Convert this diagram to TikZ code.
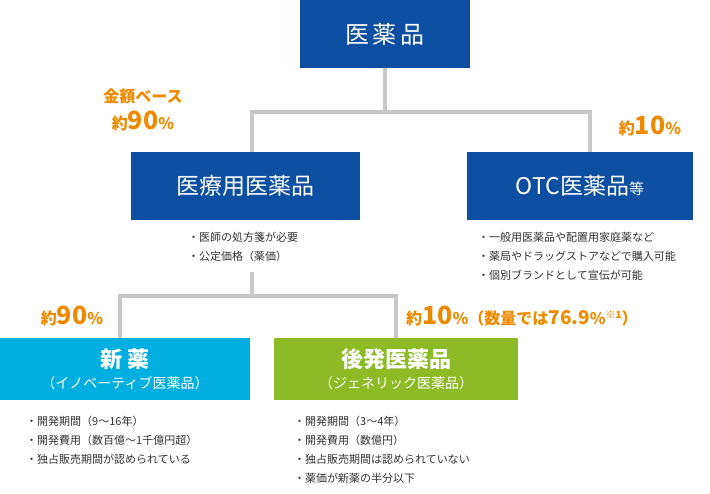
\documentclass[tikz,border=0pt]{standalone}
\usepackage{fontspec}
\setmainfont{Noto Sans CJK JP}
\definecolor{navy}{HTML}{0B4EA2}
\definecolor{cyanb}{HTML}{00AEE0}
\definecolor{greenb}{HTML}{8CBB26}
\definecolor{orng}{HTML}{EE8A00}
\definecolor{lin}{HTML}{C8C8C8}
\definecolor{txt}{HTML}{333333}
\begin{document}
\begin{tikzpicture}[x=1pt,y=-1pt,
 conn/.style={lin,line width=3.5pt},
 note/.style={text=txt,font=\fontsize{11}{19}\selectfont,align=left,anchor=north west,inner sep=0},
 pct/.style={text=orng,font=\bfseries\fontsize{16}{18}\selectfont,inner sep=0}]
\useasboundingbox (0,0) rectangle (710,494);
\fill[navy] (300,0) rectangle (470,68);
\node[text=white,font=\fontsize{24}{26}\selectfont] (top) at (385,34) {医\,薬\,品};
\fill[navy] (131,152) rectangle (360,220);
\node[text=white,font=\fontsize{23}{26}\selectfont] (iry) at (245.5,186) {医療用医薬品};
\fill[navy] (467,152) rectangle (693,220);
\node[text=white,font=\fontsize{23}{26}\selectfont] (otc) at (580,186) {OTC医薬品{\fontsize{15}{16}\selectfont 等}};
\fill[cyanb] (0,338) rectangle (250,400);
\node[text=white,align=center,font=\bfseries\fontsize{22}{24}\selectfont] (shin) at (125,369) {新\ 薬\\[-3pt]{\mdseries\fontsize{14}{16}\selectfont （イノベーティブ医薬品）}};
\fill[greenb] (274,338) rectangle (518,400);
\node[text=white,align=center,font=\bfseries\fontsize{22}{24}\selectfont] (kou) at (396,369) {後発医薬品\\[-3pt]{\mdseries\fontsize{14}{16}\selectfont （ジェネリック医薬品）}};
\coordinate (j1) at (385,112);
\coordinate (jl) at (252,112);
\coordinate (jr) at (590,112);
\draw[conn] (385,68) -- (j1);
\draw[conn] (250.25,112) -- (591.75,112);
\draw[conn] (jl) -- (252,152);
\draw[conn] (jr) -- (590,152);
\coordinate (j2) at (252,296);
\draw[conn] (252,272) -- (j2);
\draw[conn] (118.25,296) -- (397.75,296);
\draw[conn] (120,296) -- (120,338);
\draw[conn] (396,296) -- (396,338);
\node[note] (n1) at (188,232) {・医師の処方箋が必要\\・公定価格（薬価）};
\node[note] (n2) at (478,232) {・一般用医薬品や配置用家庭薬など\\・薬局やドラッグストアなどで購入可能\\・個別ブランドとして宣伝が可能};
\node[note] (n3) at (26,416) {・開発期間（9〜16年）\\・開発費用（数百億〜1千億円超）\\・独占販売期間が認められている};
\node[note] (n4) at (294,416) {・開発期間（3〜4年）\\・開発費用（数億円）\\・独占販売期間は認められていない\\・薬価が新薬の半分以下};
\node[pct,align=center] (p1) at (143,110) {金額ベース\\[6pt]約{\fontsize{25}{26}\selectfont 90}\%};
\node[pct] (p2) at (650,126) {約{\fontsize{25}{26}\selectfont 10}\%};
\node[pct] (p3) at (72,316) {約{\fontsize{25}{26}\selectfont 90}\%};
\node[pct,anchor=west] (p4) at (406,316) {約{\fontsize{25}{26}\selectfont 10}\%（数量では{\fontsize{19}{20}\selectfont 76.9}\%{\fontsize{10}{10}\selectfont\raisebox{6pt}{※1}}）};
\end{tikzpicture}
\end{document}
